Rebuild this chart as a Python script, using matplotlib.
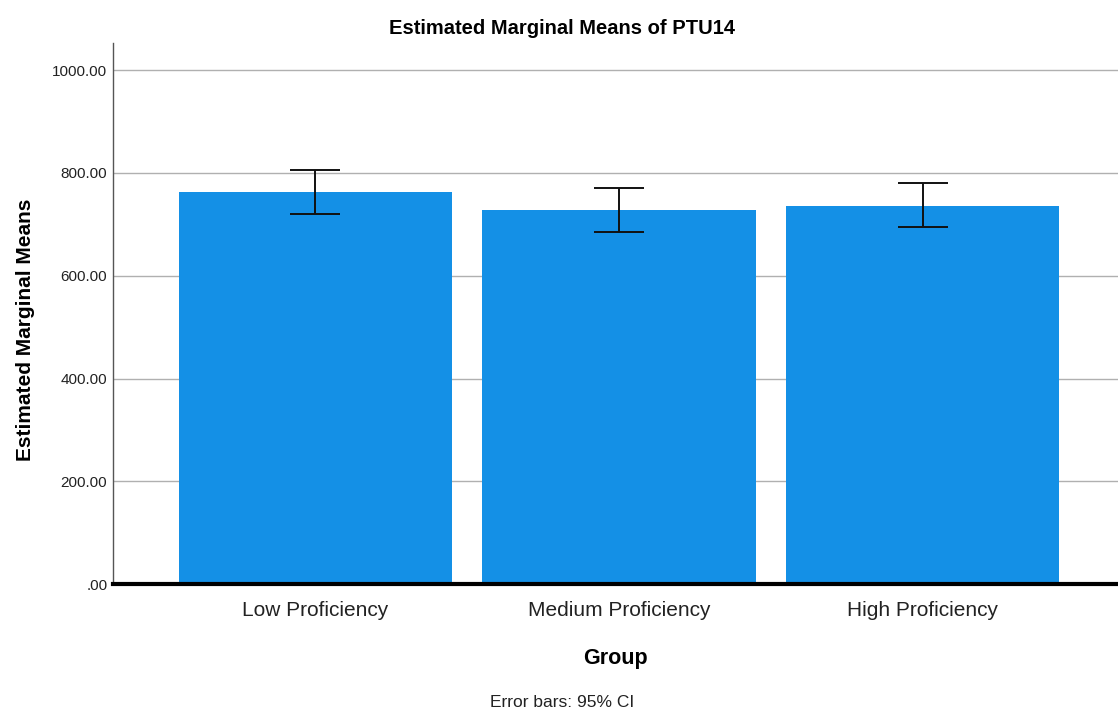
import numpy as np
import matplotlib.pyplot as plt

# Estimated marginal means of PTU14 by proficiency group, with 95% CI
groups = ["Low Proficiency", "Medium Proficiency", "High Proficiency"]
means = [762.0, 727.0, 736.5]
ci_low = [720.0, 686.0, 694.0]
ci_high = [805.0, 770.5, 779.5]

plt.rcParams['font.family'] = ['Liberation Sans', 'DejaVu Sans']

fig = plt.figure(figsize=(11.18, 7.10), dpi=100)
ax = fig.add_axes([0.101, 0.177, 0.899, 0.762])

x = np.arange(len(groups))
means = np.array(means)
yerr = [means - np.array(ci_low), np.array(ci_high) - means]

ax.bar(x, means, width=0.9, color='#1490e6', zorder=2)
ax.errorbar(x, means, yerr=yerr, fmt='none', ecolor='#111111',
            elinewidth=1.4, capsize=18, capthick=1.4, zorder=3)

ax.set_xlim(-0.667, 2.644)
ax.set_ylim(0, 1052)
ax.set_yticks([0, 200, 400, 600, 800, 1000])
ax.set_yticklabels([".00", "200.00", "400.00", "600.00", "800.00", "1000.00"],
                   fontsize=11, color='#222222')
ax.set_xticks(x)
ax.set_xticklabels(groups, fontsize=15, color='#222222')
ax.tick_params(axis='both', length=0)
ax.tick_params(axis='y', pad=4)
ax.tick_params(axis='x', pad=12)

ax.grid(axis='y', color='#b0b0b0', linewidth=1, zorder=0)
ax.set_axisbelow(True)

for side in ['top', 'right']:
    ax.spines[side].set_visible(False)
ax.spines['left'].set_color('#555555')
ax.spines['left'].set_linewidth(1)
ax.spines['bottom'].set_color('black')
ax.spines['bottom'].set_linewidth(3)
ax.spines['bottom'].set_zorder(4)

fig.text(0.503, 0.960, "Estimated Marginal Means of PTU14", ha='center',
         va='center', fontsize=14.5, fontweight='bold')
ax.set_ylabel("Estimated Marginal Means", fontsize=15, fontweight='bold')
ax.yaxis.set_label_coords(-0.078, 0.47)
ax.set_xlabel("Group", fontsize=15.5, fontweight='bold', labelpad=20)

fig.text(0.503, 0.0, "Error bars: 95% CI", ha='center', va='bottom',
         fontsize=12.5, color='#222222')

fig.savefig("out.png", dpi=100)
